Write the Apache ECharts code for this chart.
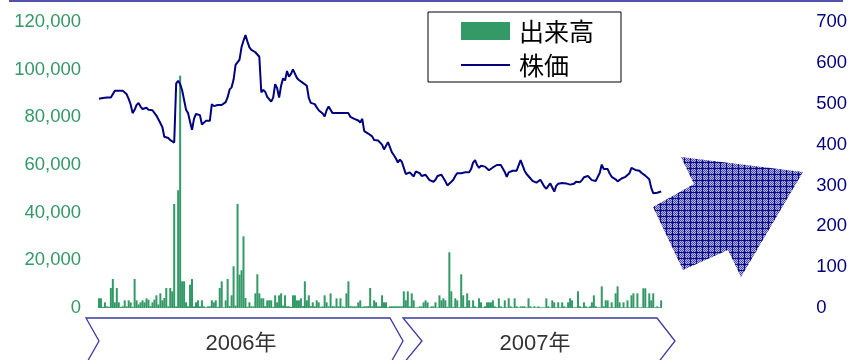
<!DOCTYPE html>
<html>
<head>
<meta charset="utf-8">
<script src="https://cdn.jsdelivr.net/npm/echarts@6/dist/echarts.min.js"></script>
<style>
  html, body { margin: 0; padding: 0; background: #ffffff; }
  #chart { width: 850px; height: 360px; }
</style>
</head>
<body>
<div id="chart"></div>
<script>
// Trading volume (出来高), one value per trading session
const volume = [
  4060,4060,500,2380,700,500,8400,12180,2380,8400,
  2380,500,700,3220,700,3220,2380,500,12180,3220,
  1500,2380,3220,2380,4060,3500,800,2380,3500,5320,
  1500,6160,3220,4200,8400,700,8400,7000,43680,700,
  49420,97500,11200,11200,2380,700,9800,12180,700,2380,
  3220,700,3220,700,300,700,700,3220,2380,3220,
  500,8400,11200,300,3220,12180,800,5320,17500,1000,
  43680,14000,15820,30100,4200,500,2380,700,700,6160,
  14140,6160,4060,4060,800,3220,3220,3220,500,5320,
  2380,5320,6160,1000,5320,700,700,500,5320,5320,
  3220,3220,4060,800,11200,3220,5320,800,2380,700,
  3220,2380,500,700,5320,2380,700,6160,800,700,
  4060,700,4060,700,500,6160,11200,800,700,700,
  700,2380,3220,500,700,700,800,8400,700,3220,
  2380,700,700,5320,2380,2380,300,700,700,700,
  700,700,700,700,7000,3220,7000,700,6160,3220,
  300,300,700,700,2380,3220,2380,300,700,700,
  2380,300,5320,3220,4060,3220,500,23380,7000,500,
  4060,3220,300,14140,5320,500,6160,3220,300,3220,
  700,300,4060,2380,300,700,2380,2380,2380,3220,
  700,300,4060,700,300,3220,300,4060,700,300,
  4060,700,300,700,700,700,300,4060,700,300,
  700,300,700,300,300,300,4060,700,300,3220,
  2380,300,2380,300,2380,700,300,2380,4060,3220,
  300,300,7000,700,300,2380,700,300,700,2380,
  5320,700,300,300,9100,700,3220,3220,300,2380,
  300,6160,9100,2380,300,2380,300,3220,300,5320,
  6160,300,6160,300,300,8260,8260,300,6160,3220,
  6160,300,700,300,3220
];

// Share price (株価), closing value per session
const price = [
  512,512,514,515,515,515,515,516,532,532,
  532,529,532,529,523,512,498,477,485,497,
  502,493,487,489,490,485,484,484,484,471,
  462,460,443,419,421,416,411,410,405,550,
  556,548,533,509,485,477,456,436,463,475,
  475,472,449,445,458,458,458,499,494,493,
  497,497,497,497,504,516,535,540,559,595,
  598,608,638,654,668,652,638,632,629,626,
  624,615,528,534,529,517,515,505,515,548,
  538,515,544,562,557,580,566,573,584,584,
  563,558,557,551,547,544,514,502,502,499,
  491,484,480,476,469,484,493,493,477,477,
  477,477,477,477,477,481,477,468,465,463,
  461,459,454,463,433,430,427,425,420,411,
  410,410,409,400,388,392,406,406,381,374,
  366,356,363,358,343,328,330,332,335,322,
  334,336,330,323,323,326,326,313,309,309,
  314,323,324,326,318,310,300,302,309,314,
  323,330,331,330,331,332,332,332,340,356,
  362,350,343,348,347,346,343,337,340,344,
  348,350,350,350,348,333,321,332,335,336,
  336,336,336,362,349,336,328,324,317,311,
  307,307,310,314,315,297,292,299,305,295,
  285,299,304,306,306,305,305,306,302,298,
  304,309,308,308,313,320,323,323,323,313,
  312,311,309,331,351,340,340,340,329,321,
  320,315,310,313,317,321,321,320,330,343,
  341,338,337,336,331,327,324,320,315,294,
  281,281,282,284,285
];

// Session numbers used as the category axis
const sessions = volume.map((_, i) => String(i + 1));

// Axis tick values
const volumeTicks = [0, 20000, 40000, 60000, 80000, 100000, 120000];
const priceTicks = [0, 100, 200, 300, 400, 500, 600, 700];

// Year banners under the plot
const years = ['2006年', '2007年'];

const GREEN = '#339966';
const NAVY = '#000080';
const BANNER = '#3a3aa2';
const LABEL_FONT = "'Liberation Sans', Arial, sans-serif";
const CJK_FONT = "'Liberation Sans', 'Noto Sans CJK JP', sans-serif";

// Cross-hatched fill for the trend arrow
function hatchPattern() {
  const c = document.createElement('canvas');
  c.width = 6; c.height = 6;
  const g = c.getContext('2d');
  g.fillStyle = '#b4b4e0';
  g.fillRect(0, 0, 6, 6);
  g.fillStyle = '#4a4aaa';
  for (let y = 0; y < 6; y++) {
    for (let x = 0; x < 6; x++) {
      if ((x + y) % 2 === 0) g.fillRect(x, y, 1, 1);
    }
  }
  g.fillStyle = '#0c0c88';
  g.fillRect(0, 0, 6, 1);
  g.fillRect(0, 0, 1, 6);
  return c;
}

const chart = echarts.init(document.getElementById('chart'), null, { renderer: 'canvas' });

const option = {
  animation: false,
  backgroundColor: '#ffffff',
  grid: { left: 98, right: 182, top: 22, bottom: 52, containLabel: false },
  legend: {
    orient: 'vertical',
    left: 428,
    top: 12,
    padding: [4, 27, 2, 33],
    itemGap: 4,
    itemWidth: 49,
    itemHeight: 18,
    borderColor: '#000000',
    borderWidth: 1,
    backgroundColor: '#ffffff',
    textStyle: {
      fontSize: 25,
      lineHeight: 30,
      color: '#000000',
      fontFamily: "'Noto Sans CJK JP', sans-serif",
      padding: [0, 0, 0, 4]
    },
    data: [
      { name: '出来高', icon: 'rect' },
      { name: '株価', icon: 'path://M0,0H49V2H0Z' }
    ]
  },
  xAxis: {
    type: 'category',
    data: sessions,
    boundaryGap: true,
    axisLine: { show: false },
    axisTick: { show: false },
    axisLabel: { show: false },
    splitLine: { show: false }
  },
  yAxis: [
    {
      type: 'value',
      min: volumeTicks[0],
      max: volumeTicks[volumeTicks.length - 1],
      interval: volumeTicks[1] - volumeTicks[0],
      axisLine: { show: false },
      axisTick: { show: false },
      splitLine: { show: false },
      axisLabel: {
        margin: 17,
        color: GREEN,
        fontSize: 18.5,
        fontFamily: LABEL_FONT,
        formatter: v => v.toLocaleString('en-US')
      }
    },
    {
      type: 'value',
      min: priceTicks[0],
      max: priceTicks[priceTicks.length - 1],
      interval: priceTicks[1] - priceTicks[0],
      position: 'right',
      axisLine: { show: false },
      axisTick: { show: false },
      splitLine: { show: false },
      axisLabel: {
        margin: 154,
        color: NAVY,
        fontSize: 18.5,
        fontFamily: LABEL_FONT
      }
    }
  ],
  series: [
    {
      name: '出来高',
      type: 'bar',
      yAxisIndex: 0,
      data: volume,
      barWidth: 2,
      itemStyle: { color: GREEN },
      emphasis: { disabled: true }
    },
    {
      name: '株価',
      type: 'line',
      yAxisIndex: 1,
      data: price,
      symbol: 'none',
      lineStyle: { color: NAVY, width: 2 },
      itemStyle: { color: NAVY },
      emphasis: { disabled: true }
    }
  ],
  graphic: [
    // thin rule along the top edge
    {
      type: 'line',
      shape: { x1: 9, y1: 1, x2: 843, y2: 1 },
      style: { stroke: '#5252ab', lineWidth: 2 },
      silent: true
    },
    // year banners
    {
      type: 'polygon',
      shape: { points: [[86, 318], [390, 318], [403, 341], [390, 364], [86, 364], [99, 341]] },
      style: { fill: 'rgba(0,0,0,0)', stroke: BANNER, lineWidth: 1.3 },
      silent: true
    },
    {
      type: 'polygon',
      shape: { points: [[403, 318], [657, 318], [675, 341], [657, 364], [403, 364], [422, 341]] },
      style: { fill: 'rgba(0,0,0,0)', stroke: BANNER, lineWidth: 1.3 },
      silent: true
    },
    {
      type: 'text',
      style: {
        text: years[0], x: 241, y: 344,
        textAlign: 'center', textVerticalAlign: 'middle',
        font: '22px ' + CJK_FONT, fill: '#333333'
      },
      silent: true
    },
    {
      type: 'text',
      style: {
        text: years[1], x: 535, y: 344,
        textAlign: 'center', textVerticalAlign: 'middle',
        font: '22px ' + CJK_FONT, fill: '#333333'
      },
      silent: true
    },
    // upward trend arrow
    {
      type: 'polygon',
      z: 100,
      shape: {
        points: [[681, 157], [803, 172], [741, 277], [728, 250], [683, 270], [653, 207], [694, 184]]
      },
      style: { fill: { image: hatchPattern(), repeat: 'repeat' }, stroke: null },
      silent: true
    }
  ]
};

chart.setOption(option);
</script>
</body>
</html>
